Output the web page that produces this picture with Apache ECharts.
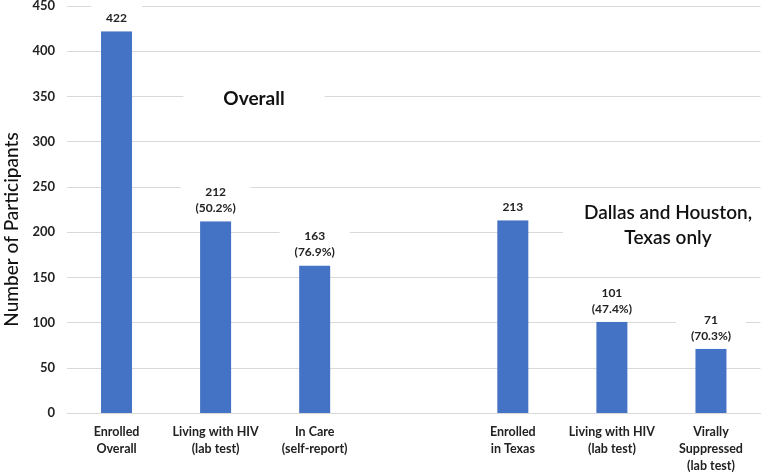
<!DOCTYPE html>
<html>
<head>
<meta charset="utf-8">
<script src="https://cdn.jsdelivr.net/npm/echarts@6/dist/echarts.min.js"></script>
<style>
html,body{margin:0;padding:0;background:#fff;}
#chart{width:764px;height:473px;}
</style>
</head>
<body>
<div id="chart"></div>
<script>
const categories = ['Enrolled\nOverall', 'Living with HIV\n(lab test)', 'In Care\n(self-report)', '', 'Enrolled\nin Texas', 'Living with HIV\n(lab test)', 'Virally\nSuppressed\n(lab test)'];
const values = [422, 212, 163, null, 213, 101, 71];
const percents = [null, '50.2%', '76.9%', null, null, '47.4%', '70.3%'];
const yTicks = { min: 0, max: 450, interval: 50 };
const annotations = [
  { text: 'Overall' },
  { text: 'Dallas and Houston,\nTexas only' }
];

const FONT = 'Lato, "Open Sans", sans-serif';
const chart = echarts.init(document.getElementById('chart'));
chart.setOption({
  animation: false,
  backgroundColor: '#fff',
  grid: { left: 67, right: 3.5, top: 6, bottom: 60, containLabel: false, outerBoundsMode: 'none' },
  xAxis: {
    type: 'category',
    data: categories,
    axisTick: { show: false },
    axisLine: { show: true, lineStyle: { color: '#d9d9d9', width: 1 } },
    axisLabel: {
      interval: 0, margin: 10, color: '#222', fontFamily: FONT,
      fontWeight: 'bold', fontSize: 12.5, lineHeight: 17
    }
  },
  yAxis: {
    type: 'value',
    min: yTicks.min, max: yTicks.max, interval: yTicks.interval,
    name: 'Number of Participants',
    nameLocation: 'middle',
    nameGap: 42,
    nameTextStyle: { fontFamily: FONT, fontSize: 19, fontWeight: 500, color: '#111', padding: [0, 40, 0, 0] },
    axisLine: { show: false },
    axisTick: { show: false },
    axisLabel: { margin: 12, color: '#222', fontFamily: FONT, fontWeight: 'bold', fontSize: 13 },
    splitLine: { lineStyle: { color: '#d9d9d9', width: 1 } }
  },
  series: [{
    type: 'bar',
    data: values.map(v => v === null ? '-' : v),
    barWidth: 31,
    itemStyle: { color: '#4472C4' },
    label: {
      show: true,
      position: 'top',
      distance: 0,
      color: '#222',
      fontFamily: FONT,
      fontWeight: 'bold',
      fontSize: 12,
      lineHeight: 16,
      backgroundColor: '#fff',
      padding: [5, 15],
      formatter: p => percents[p.dataIndex] ? p.value + '\n(' + percents[p.dataIndex] + ')' : String(p.value)
    }
  }],
  graphic: [
    {
      type: 'text', x: 254, y: 99, z: 100,
      style: {
        text: annotations[0].text, fill: '#111', font: 'bold 19px ' + FONT,
        backgroundColor: '#fff', align: 'center', verticalAlign: 'middle', padding: [8, 40], lineHeight: 22
      }
    },
    {
      type: 'text', x: 668, y: 225, z: 100,
      style: {
        text: annotations[1].text, fill: '#111', font: '600 19px ' + FONT,
        backgroundColor: '#fff', align: 'center', verticalAlign: 'middle', lineHeight: 25, padding: [8, 21]
      }
    }
  ]
});
</script>
</body>
</html>
